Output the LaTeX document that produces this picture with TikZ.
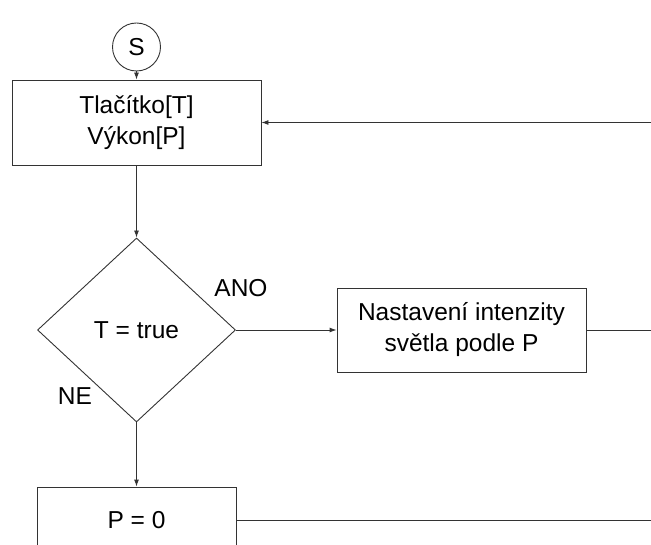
\documentclass[tikz,border=0pt]{standalone}
\usepackage{fontspec}
\setmainfont{Liberation Sans}
\usetikzlibrary{shapes.geometric,arrows.meta}
\begin{document}
\begin{tikzpicture}[x=1pt,y=-1pt,
  every node/.style={font=\fontsize{24.5}{31}\selectfont, text=black},
  line/.style={draw=black!80, line width=0.9pt},
  arrow/.style={line, -{Latex[length=7pt,width=5pt]}},
  procbox/.style={line, rectangle, inner sep=0pt, align=center},
  startnode/.style={line, circle, inner sep=0pt, minimum size=48pt},
  decision/.style={line, diamond, inner sep=0pt, minimum width=198pt, minimum height=184pt},
  tag/.style={inner sep=0pt}
]
\useasboundingbox (0,0) rectangle (651,545);
\clip (0,0) rectangle (651,545);

% start terminal
\node[startnode] (s) at (136.5,47) {S};

% input block
\node[procbox, minimum width=249pt, minimum height=85pt] (b1) at (136.5,122.5)
  {Tlačítko[T]\\Výkon[P]};

% decision on the button state
\node[decision] (d) at (136.5,330) {T = true};
\node[tag] (ano) at (241,288) {ANO};
\node[tag] (ne) at (75,396) {NE};

% branch when the button is pressed
\node[procbox, minimum width=249pt, minimum height=84pt] (b2) at (461.5,330)
  {Nastavení intenzity\\světla podle P};

% branch when the button is released
\node[procbox, minimum width=199pt, minimum height=66pt] (b3) at (136.5,520) {P = 0};

% loop-back points beyond the right edge
\coordinate (r1) at (680,122.5);
\coordinate (r2) at (680,330);
\coordinate (r3) at (680,520);

\draw[arrow] (s) -- (b1);
\draw[arrow] (b1) -- (d);
\draw[arrow] (d) -- (b2);
\draw[arrow] (d) -- (b3);
\draw[line] (b2.east) -- (r2);
\draw[line] (b3.east) -- (r3);
\draw[arrow] (r1) -- (b1.east);
\end{tikzpicture}
\end{document}
